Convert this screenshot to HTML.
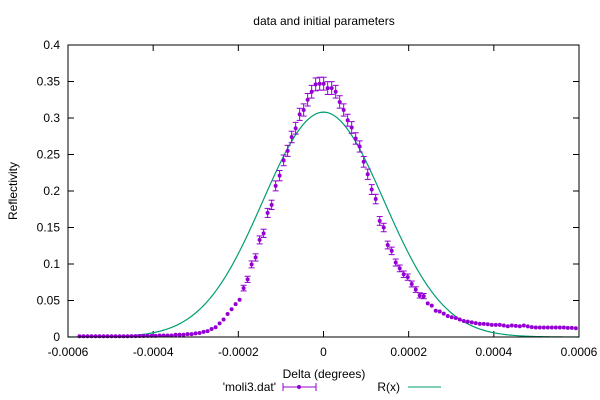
<!DOCTYPE html>
<html><head><meta charset="utf-8"><style>
body{margin:0;background:#fff}
svg{display:block;font-family:"Liberation Sans",Arial,sans-serif;font-size:12px}
</style></head><body>
<svg id="chart" width="600" height="400">
<text x="324" y="25" text-anchor="middle">data and initial parameters</text>
<text transform="translate(17,191) rotate(-90)" text-anchor="middle">Reflectivity</text>
<text x="324" y="378" text-anchor="middle">Delta (degrees)</text>
<g id="ticks"></g>
<g id="fit"></g>
<g id="data"></g>
<rect x="68" y="45" width="511" height="292" fill="none" stroke="#000"/>
<g>
<text x="276" y="391" text-anchor="end">'moli3.dat'</text>
<line x1="283" y1="387" x2="316" y2="387" stroke="#9400d3"/>
<line x1="283" y1="383" x2="283" y2="391" stroke="#9400d3"/>
<line x1="316" y1="383" x2="316" y2="391" stroke="#9400d3"/>
<circle cx="299" cy="387" r="2" fill="#9400d3"/>
</g>
<g>
<text x="400" y="391" text-anchor="end">R(x)</text>
<line x1="408" y1="387" x2="441" y2="387" stroke="#009e73"/>
</g>
</svg>
<script>
const xTicks=[-0.0006,-0.0004,-0.0002,0,0.0002,0.0004,0.0006];
const xTickLabels=["-0.0006","-0.0004","-0.0002","0","0.0002","0.0004","0.0006"];
const yTicks=[0,0.05,0.1,0.15,0.2,0.25,0.3,0.35,0.4];
const yTickLabels=["0","0.05","0.1","0.15","0.2","0.25","0.3","0.35","0.4"];
const xStart=-0.000573;
const xStep=0.0000094;
const leftValues=[0.001,0.001,0.001,0.001,0.001,0.001,0.001,0.001,0.001,0.001,0.001,0.001,0.001,0.0012,0.0012,0.0013,0.0014,0.0015,0.0015,
0.0015,0.002,0.002,0.002,0.002,0.003,0.003,0.003,0.004,0.004,0.005,0.0055,0.007,0.008,0.011,0.0133,0.0187,0.024,0.0315,0.038,0.045,0.051,0.067,0.079,0.0995,0.109,0.133,0.142,0.170,0.181,0.207,0.221,0.242,0.255,0.274,0.286,0.305,0.311,0.325,0.336,0.346,0.347,0.347];
const rightValues=[0.341,0.341,0.336,0.322,0.311,0.297,0.287,0.272,0.261,0.240,0.223,0.202,0.189,0.159,0.150,0.126,0.118,0.102,0.094,0.086,0.082,0.0726,0.065,0.057,0.056,0.046,0.043,0.036,0.035,0.032,0.0288,0.027,0.026,0.024,0.022,0.021,0.020,0.019,0.018,0.018,0.0175,0.0166,0.0166,0.0166,0.0157,0.0148,0.0157,0.0152,0.0148,0.0157,0.0145,0.0135,0.013,0.013,0.013,0.013,0.013,0.013,0.013,0.013,0.0125,0.0125,0.012];
const fitAmplitude=0.308, fitCenter=0, fitSigma=0.000142;
const yValues=leftValues.concat(rightValues);
const X0=68,X1=579,Y0=337,Y1=45;
const sx=v=>X0+(v+0.0006)/0.0012*(X1-X0);
const sy=v=>Y0-v/0.4*(Y0-Y1);
const NS="http://www.w3.org/2000/svg";
function mk(tag,attrs,parent){const e=document.createElementNS(NS,tag);for(const k in attrs)e.setAttribute(k,attrs[k]);parent.appendChild(e);return e;}
const tg=document.getElementById('ticks');
xTicks.forEach((t,i)=>{const x=sx(t);
const a=mk('line',{x1:x,y1:Y0,x2:x,y2:Y0-6,stroke:'#000'},tg);


const b=mk('line',{x1:x,y1:Y1,x2:x,y2:Y1+6,stroke:'#000'},tg);


const l=mk('text',{x:x,y:356,'text-anchor':'middle'},tg);l.textContent=xTickLabels[i];

});
yTicks.forEach((t,i)=>{const y=sy(t);
const a=mk('line',{x1:X0,y1:y,x2:X0+6,y2:y,stroke:'#000'},tg);


const b=mk('line',{x1:X1,y1:y,x2:X1-6,y2:y,stroke:'#000'},tg);


const l=mk('text',{x:60,y:y+4,'text-anchor':'end'},tg);l.textContent=yTickLabels[i];

});
// fit curve
let d='';for(let i=0;i<=300;i++){const x=-0.0006+i*0.0012/300;const y=fitAmplitude*Math.exp(-((x-fitCenter)**2)/(2*fitSigma*fitSigma));d+=(i?'L':'M')+sx(x).toFixed(2)+','+sy(y).toFixed(2);}
const p=mk('path',{d:d,fill:'none',stroke:'#009e73','stroke-width':1.2},document.getElementById('fit'));


// data points
const dg=document.getElementById('data');
yValues.forEach((v,i)=>{const x=sx(xStart+i*xStep),y=sy(v);const err=0.015*Math.sqrt(v);
const g=mk('g',{},dg);


if(err*730>2.5){const ya=sy(v+err),yb=sy(v-err);
mk('line',{x1:x,y1:ya,x2:x,y2:yb,stroke:'#9400d3'},g);
mk('line',{x1:x-3,y1:ya,x2:x+3,y2:ya,stroke:'#9400d3'},g);
mk('line',{x1:x-3,y1:yb,x2:x+3,y2:yb,stroke:'#9400d3'},g);}
mk('circle',{cx:x,cy:y,r:2,fill:'#9400d3'},g);});
</script>
</body></html>
